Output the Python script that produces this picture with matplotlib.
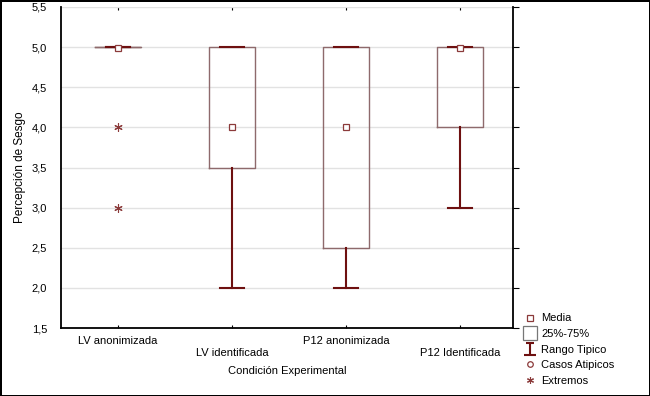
import matplotlib
matplotlib.use('Agg')
import matplotlib.pyplot as plt
from matplotlib.lines import Line2D
from matplotlib.path import Path

# Data
categories = ['LV anonimizada', 'LV identificada', 'P12 anonimizada', 'P12 Identificada']
q1 = [5.0, 3.5, 2.5, 4.0]
q3 = [5.0, 5.0, 5.0, 5.0]
whis_lo = [5.0, 2.0, 2.0, 3.0]
whis_hi = [5.0, 5.0, 5.0, 5.0]
medians = [5.0, 5.0, 5.0, 5.0]
means = [4.99, 4.0, 4.0, 4.99]
extremes = [[4.0, 3.0], [], [], []]
yticks = [1.5, 2.0, 2.5, 3.0, 3.5, 4.0, 4.5, 5.0, 5.5]

plt.rcParams['font.family'] = ['Liberation Sans', 'DejaVu Sans']

box_col = '#8e6a6c'
whis_col = '#6e1010'
mark_col = '#8b3a3a'

fig = plt.figure(figsize=(6.5, 3.96), dpi=100)
fig.patch.set_edgecolor('black')
fig.patch.set_linewidth(2)
ax = fig.add_axes([61 / 650, 1 - 328 / 396, 452 / 650, 321 / 396])

stats = []
for i in range(len(categories)):
    stats.append(dict(med=medians[i], q1=q1[i], q3=q3[i], whislo=whis_lo[i],
                      whishi=whis_hi[i], mean=means[i], fliers=extremes[i]))

ax.bxp(stats, positions=range(len(categories)), widths=0.4, showmeans=True,
       boxprops=dict(color=box_col, linewidth=1),
       whiskerprops=dict(color=whis_col, linewidth=1.5),
       capprops=dict(color=whis_col, linewidth=1.5),
       capwidths=0.21,
       medianprops=dict(linewidth=0),
       meanprops=dict(marker='s', markersize=5, markerfacecolor='white',
                      markeredgecolor=mark_col, markeredgewidth=0.9),
       flierprops=dict(marker=(6, 2, 0), markersize=6, markeredgecolor=mark_col,
                       markeredgewidth=0.8, linestyle='none'),
       zorder=3)

ax.set_xlim(-0.5, 3.465)
ax.set_ylim(1.5, 5.5)
ax.set_yticks(yticks)
ax.set_yticklabels([f'{v:.1f}'.replace('.', ',') for v in yticks], fontsize=8)
ax.yaxis.grid(True, color='#e2e2e2', linewidth=1)
ax.set_axisbelow(True)

ax.set_xticks(range(len(categories)))
ax.set_xticklabels([c if i % 2 == 0 else '\n' + c for i, c in enumerate(categories)],
                   fontsize=8)
ax.tick_params(axis='x', direction='in', length=2, top=True, pad=6)
ax.tick_params(axis='y', left=False, right=True, direction='out', length=4, pad=6)

ax.spines['top'].set_visible(False)
for s in ['left', 'bottom', 'right']:
    ax.spines[s].set_linewidth(1.3)

ax.set_ylabel('Percepción de Sesgo', fontsize=8.5, labelpad=4)
ax.set_xlabel('Condición Experimental', fontsize=8, labelpad=6)

# legend
ibeam = Path([(-0.35, 0.5), (0.35, 0.5), (0, 0.5), (0, -0.5), (-0.5, -0.5), (0.5, -0.5)],
             [Path.MOVETO, Path.LINETO, Path.MOVETO, Path.LINETO, Path.MOVETO, Path.LINETO])
handles = [
    Line2D([], [], linestyle='none', marker='s', markersize=5, markerfacecolor='white',
           markeredgecolor=mark_col, markeredgewidth=0.9),
    Line2D([], [], linestyle='none', marker='s', markersize=10, markerfacecolor='white',
           markeredgecolor='#777777', markeredgewidth=0.9),
    Line2D([], [], linestyle='none', marker=ibeam, markersize=9,
           markeredgecolor=whis_col, markeredgewidth=1.5),
    Line2D([], [], linestyle='none', marker='o', markersize=4, markerfacecolor='white',
           markeredgecolor=mark_col, markeredgewidth=0.9),
    Line2D([], [], linestyle='none', marker=(6, 2, 0), markersize=5,
           markeredgecolor=mark_col, markeredgewidth=0.8),
]
labels = ['Media', '25%-75%', 'Rango Tipico', 'Casos Atipicos', 'Extremos']
fig.legend(handles, labels, loc='upper left', bbox_to_anchor=(520 / 650, 1 - 309 / 396),
           frameon=False, fontsize=8, handlelength=1.0, handletextpad=0.5,
           labelspacing=0.5, borderaxespad=0)

fig.savefig('out.png', dpi=100, edgecolor=fig.get_edgecolor())
